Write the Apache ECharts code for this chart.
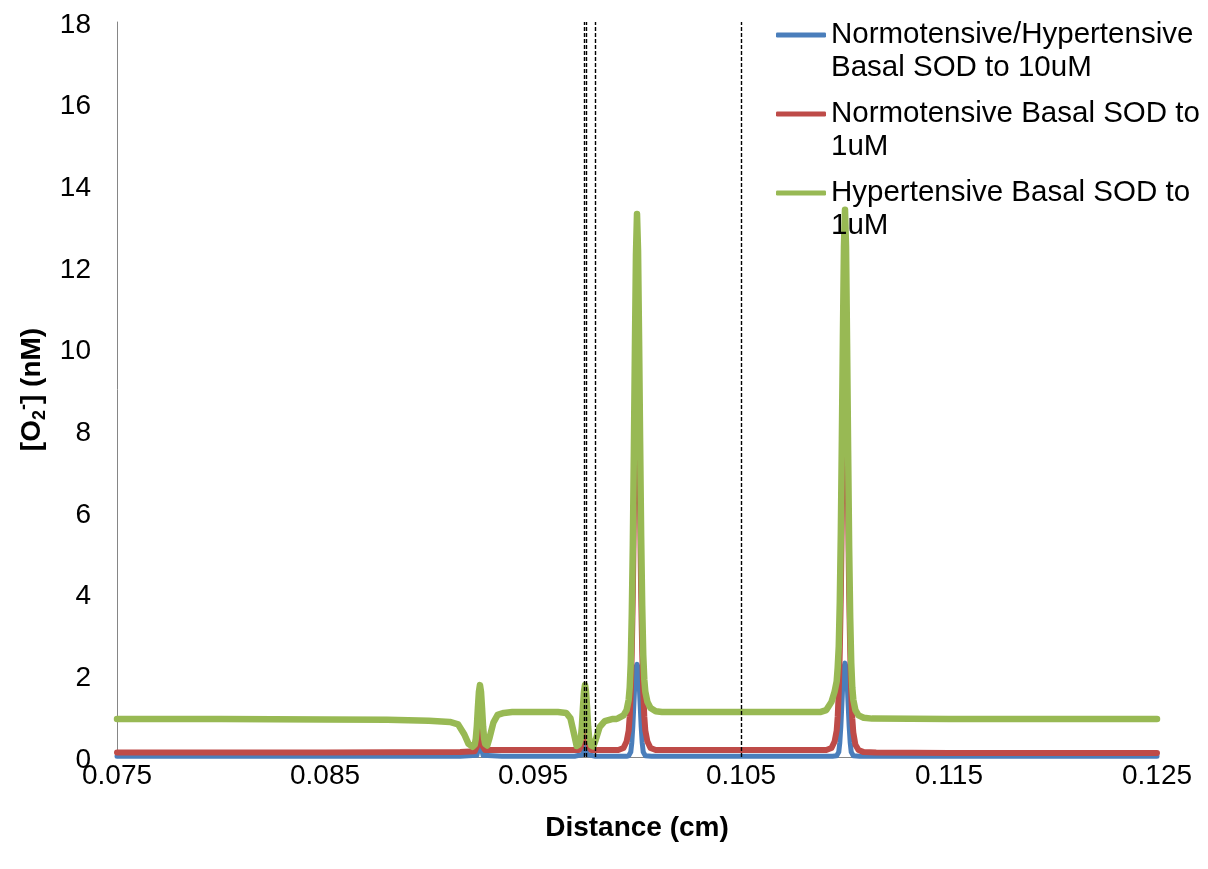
<!DOCTYPE html>
<html>
<head>
<meta charset="utf-8">
<script src="https://cdn.jsdelivr.net/npm/echarts@6/dist/echarts.min.js"></script>
<style>
html,body{margin:0;padding:0;background:#fff;}
#chart{width:1208px;height:869px;}
</style>
</head>
<body>
<div id="chart"></div>
<script>
// ---- data ----
const seriesNames = [
  'Normotensive/Hypertensive Basal SOD to 10uM',
  'Normotensive Basal SOD to 1uM',
  'Hypertensive Basal SOD to 1uM'
];
const legendLabels = [
  'Normotensive/Hypertensive\nBasal SOD to 10uM',
  'Normotensive Basal SOD to\n1uM',
  'Hypertensive Basal SOD to\n1uM'
];
const xTicks = [0.075, 0.085, 0.095, 0.105, 0.115, 0.125];
const yTicks = [0, 2, 4, 6, 8, 10, 12, 14, 16, 18];
const markerX = [0.09745, 0.09755, 0.098, 0.105];

// Normotensive/Hypertensive Basal SOD to 10uM
const blueX = [
  0.075, 0.085, 0.0915, 0.0923, 0.0924, 0.09245, 0.0925, 0.0926, 0.0935,
  0.0970, 0.0974, 0.09745, 0.0975, 0.09755, 0.0976, 0.0980, 0.0995,
  0.0996, 0.0997, 0.09975, 0.0998, 0.09985, 0.0999, 0.09995, 0.1, 0.10005, 0.1001, 0.10015, 0.1002, 0.10025, 0.1003, 0.1004, 0.1007,
  0.1094, 0.1096, 0.1097, 0.10975, 0.1098, 0.10985, 0.1099, 0.10995, 0.11, 0.11005, 0.1101, 0.11015, 0.1102, 0.11025, 0.1103, 0.1104, 0.1107,
  0.118, 0.125];
const blueY = [
  0.02, 0.02, 0.02, 0.04, 0.25, 0.52, 0.25, 0.04, 0.02,
  0.02, 0.06, 0.28, 0.55, 0.28, 0.06, 0.02, 0.02,
  0.03, 0.12, 0.35, 0.75, 1.3, 1.85, 2.2, 2.27, 2.2, 1.85, 1.3, 0.75, 0.35, 0.12, 0.03, 0.02,
  0.02, 0.03, 0.12, 0.35, 0.75, 1.3, 1.85, 2.2, 2.3, 2.2, 1.85, 1.3, 0.75, 0.35, 0.12, 0.03, 0.02,
  0.02, 0.02];

// Normotensive Basal SOD to 1uM
const redX = [
  0.075, 0.085, 0.0915, 0.0922, 0.0923, 0.09237, 0.09245, 0.09253, 0.0926, 0.0927, 0.0935,
  0.0972, 0.0973, 0.09743, 0.0975, 0.09757, 0.0977, 0.0978, 0.0990,
  0.0991, 0.09935, 0.0995, 0.0996, 0.09965, 0.0997, 0.09975, 0.0998, 0.09985, 0.0999, 0.09995, 0.1,
  0.10005, 0.1001, 0.10015, 0.1002, 0.10025, 0.1003, 0.10035, 0.1004, 0.1005, 0.10065, 0.1009, 0.1012,
  0.1085, 0.1091, 0.10935, 0.1095, 0.1096, 0.10965, 0.1097, 0.10975, 0.1098, 0.10985, 0.1099, 0.10995, 0.11,
  0.11005, 0.1101, 0.11015, 0.1102, 0.11025, 0.1103, 0.11035, 0.1104, 0.1105, 0.11065, 0.1109, 0.1115,
  0.115, 0.125];
const redY = [
  0.11, 0.11, 0.12, 0.14, 0.25, 0.5, 0.68, 0.5, 0.25, 0.17, 0.17,
  0.17, 0.25, 0.5, 0.68, 0.5, 0.25, 0.17, 0.17,
  0.17, 0.22, 0.38, 0.65, 1.0, 1.6, 2.6, 4.0, 6.0, 8.0, 9.5, 10,
  9.5, 8.0, 6.0, 4.0, 2.6, 1.6, 1.0, 0.65, 0.38, 0.22, 0.17, 0.17,
  0.17, 0.17, 0.22, 0.38, 0.65, 1.0, 1.6, 2.6, 4.0, 6.0, 8.0, 9.5, 10,
  9.5, 8.0, 6.0, 4.0, 2.6, 1.6, 0.95, 0.6, 0.3, 0.17, 0.12, 0.11,
  0.1, 0.1];

// Hypertensive Basal SOD to 1uM
const greenX = [
  0.075, 0.080, 0.085, 0.088, 0.0900, 0.0910, 0.0914, 0.0917, 0.0919, 0.0921, 0.0922, 0.09225, 0.0923, 0.09235,
  0.0924, 0.09245, 0.0925, 0.09255, 0.0926, 0.09265, 0.0927, 0.0928, 0.0929, 0.0931, 0.0933, 0.0936, 0.0940,
  0.0950, 0.0962, 0.0966, 0.0968, 0.0970, 0.0971, 0.0972, 0.0973, 0.09735, 0.0974, 0.09745,
  0.0975, 0.09755, 0.0976, 0.09765, 0.0977, 0.0978, 0.0979, 0.0980, 0.0982, 0.09845, 0.0988,
  0.0990, 0.0991, 0.09935, 0.0995, 0.0996, 0.09965, 0.0997, 0.09975, 0.0998, 0.09985, 0.0999, 0.09995, 0.1,
  0.10005, 0.1001, 0.10015, 0.1002, 0.10025, 0.1003, 0.10035, 0.1004, 0.1005, 0.10065, 0.1009, 0.1012, 0.104, 0.107,
  0.1088, 0.1091, 0.10935, 0.1095, 0.1096, 0.10965, 0.1097, 0.10975, 0.1098, 0.10985, 0.1099, 0.10995, 0.11,
  0.11005, 0.1101, 0.11015, 0.1102, 0.11025, 0.1103, 0.11035, 0.1104, 0.1105, 0.11065, 0.1109, 0.1113, 0.115, 0.125];
const greenY = [
  0.93, 0.93, 0.92, 0.91, 0.89, 0.86, 0.80, 0.55, 0.32, 0.25, 0.30, 0.45, 0.75, 1.2,
  1.6, 1.76, 1.6, 1.2, 0.75, 0.45, 0.32, 0.28, 0.45, 0.85, 1.03, 1.08, 1.1,
  1.1, 1.1, 1.08, 0.95, 0.5, 0.27, 0.3, 0.45, 0.75, 1.2, 1.6,
  1.76, 1.6, 1.2, 0.75, 0.45, 0.28, 0.26, 0.40, 0.73, 0.88, 0.93,
  0.93, 0.95, 1.02, 1.15, 1.4, 1.7, 2.3, 3.5, 5.2, 7.5, 10, 12.3, 13.3,
  12.4, 10.2, 7.7, 5.4, 3.7, 2.5, 1.9, 1.6, 1.35, 1.2, 1.12, 1.1, 1.1, 1.1,
  1.1, 1.15, 1.35, 1.6, 1.85, 2.2, 2.7, 3.8, 5.5, 7.8, 10.3, 12.5, 13.4,
  12.5, 10.1, 7.5, 5.1, 3.4, 2.3, 1.7, 1.4, 1.15, 1.02, 0.96, 0.94, 0.93, 0.93];

// ---- chart ----
const zip = (xs, ys) => xs.map((x, i) => [x, ys[i]]);
const colors = ['#4A7EBB', '#BE4B48', '#98B954'];
const FONT = "'Liberation Sans', Arial, sans-serif";

const chart = echarts.init(document.getElementById('chart'), null, {renderer: 'canvas'});
chart.setOption({
  animation: false,
  backgroundColor: '#fff',
  color: colors,
  textStyle: {fontFamily: FONT, color: '#000'},
  grid: {left: 117, right: 51, top: 22, bottom: 112, containLabel: false, outerBoundsMode: 'none'},
  legend: {
    orient: 'vertical',
    left: 776,
    top: -14.5,
    padding: 0,
    itemGap: -20,
    itemWidth: 50,
    itemHeight: 5,
    icon: 'roundRect',
    data: seriesNames,
    formatter: (name) => '\n' + legendLabels[seriesNames.indexOf(name)],
    textStyle: {fontFamily: FONT, fontSize: 29.5, lineHeight: 33, color: '#000'}
  },
  xAxis: {
    type: 'value',
    min: xTicks[0],
    max: xTicks[xTicks.length - 1],
    interval: 0.01,
    name: 'Distance (cm)',
    nameLocation: 'middle',
    nameGap: 57,
    nameTextStyle: {fontFamily: FONT, fontSize: 28, fontWeight: 'bold', color: '#000'},
    axisLine: {show: true, lineStyle: {color: '#868686', width: 1}},
    axisTick: {show: false},
    splitLine: {show: false},
    axisLabel: {
      margin: 5, fontFamily: FONT, fontSize: 28, color: '#000',
      formatter: (v) => {
        const t = xTicks.find(k => Math.abs(k - v) < 1e-9);
        return t === undefined ? '' : t.toFixed(3);
      }
    }
  },
  yAxis: {
    type: 'value',
    min: yTicks[0],
    max: yTicks[yTicks.length - 1],
    interval: 2,
    name: '{a|[O}{s|2}{p|-}{a|] (nM)}',
    nameLocation: 'middle',
    nameRotate: 90,
    nameGap: 68,
    nameTextStyle: {
      rich: {
        a: {fontFamily: FONT, fontSize: 28, fontWeight: 'bold', color: '#000', lineHeight: 34},
        s: {fontFamily: FONT, fontSize: 18, fontWeight: 'bold', color: '#000', verticalAlign: 'bottom', lineHeight: 34},
        p: {fontFamily: FONT, fontSize: 18, fontWeight: 'bold', color: '#000', verticalAlign: 'top', lineHeight: 34}
      }
    },
    axisLine: {show: true, lineStyle: {color: '#868686', width: 1}},
    axisTick: {show: false},
    splitLine: {show: false},
    axisLabel: {
      margin: 26,
      formatter: (v) => '{v|' + v + '}',
      rich: {v: {fontFamily: FONT, fontSize: 28, color: '#000', padding: [6, 0, 0, 0]}}
    }
  },
  series: [
    {
      name: seriesNames[0], type: 'line', data: zip(blueX, blueY),
      showSymbol: false, symbol: 'none', smooth: false,
      lineStyle: {width: 5, color: colors[0], cap: 'round', join: 'round'},
      markLine: {
        silent: true, symbol: ['none', 'none'], label: {show: false},
        lineStyle: {color: '#000', type: [4, 2], width: 1.4},
        data: markerX.map(x => [{coord: [x, yTicks[0]]}, {coord: [x, yTicks[yTicks.length - 1]]}])
      }
    },
    {
      name: seriesNames[1], type: 'line', data: zip(redX, redY),
      showSymbol: false, symbol: 'none', smooth: false,
      lineStyle: {width: 6, color: colors[1], cap: 'round', join: 'round'}
    },
    {
      name: seriesNames[2], type: 'line', data: zip(greenX, greenY),
      showSymbol: false, symbol: 'none', smooth: false,
      lineStyle: {width: 6.5, color: colors[2], cap: 'round', join: 'round'}
    }
  ]
});
</script>
</body>
</html>
